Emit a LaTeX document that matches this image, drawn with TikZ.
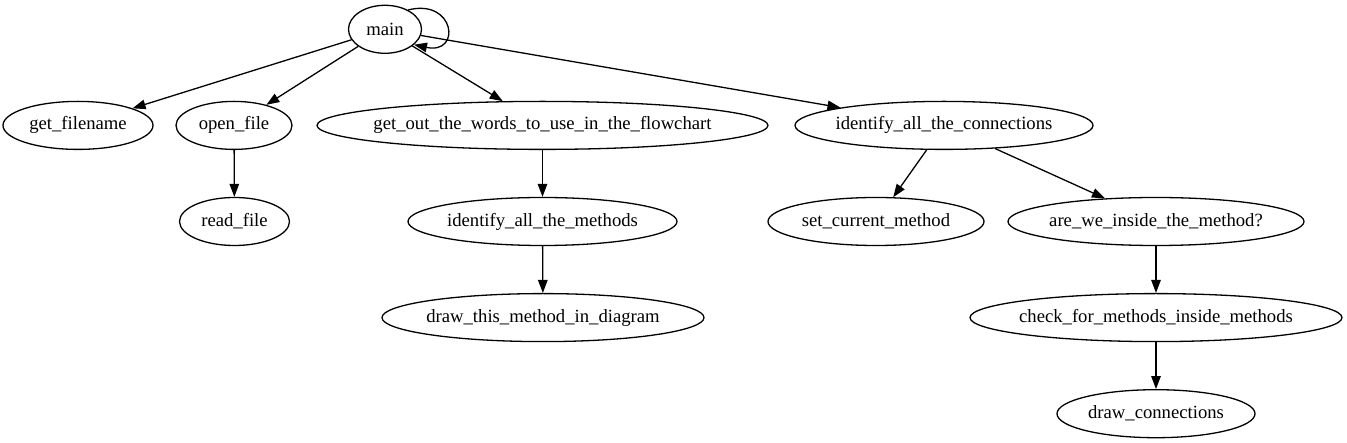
\documentclass[tikz,border=0pt]{standalone}
\usepackage{fontspec}
\setmainfont{Liberation Serif}
\usetikzlibrary{shapes.geometric,arrows.meta}
\newcommand\zlbl[1]{\makebox[0pt]{#1}}
\begin{document}
\begin{tikzpicture}[x=1pt,y=-1pt,
  nd/.style={draw,ellipse,line width=1.3pt,inner sep=0pt,minimum height=48pt,
    font=\fontsize{18.67}{22}\selectfont},
  edge/.style={-{Triangle[length=13pt,width=9.5pt]},line width=1.3pt}]
\useasboundingbox (0,0) rectangle (1347,443);
\node[nd,minimum width=73pt]  (main) at (385,29.3) {\zlbl{main}};
\node[nd,minimum width=150pt] (gf)   at (78,125.4) {\zlbl{get\_filename}};
\node[nd,minimum width=116pt] (of)   at (234,125.4) {\zlbl{open\_file}};
\node[nd,minimum width=451pt] (gw)   at (542.5,125.4) {\zlbl{get\_out\_the\_words\_to\_use\_in\_the\_flowchart}};
\node[nd,minimum width=298pt] (ic)   at (944,125.4) {\zlbl{identify\_all\_the\_connections}};
\node[nd,minimum width=110pt] (rf)   at (234.5,221.5) {\zlbl{read\_file}};
\node[nd,minimum width=269pt] (im)   at (542.5,221.5) {\zlbl{identify\_all\_the\_methods}};
\node[nd,minimum width=322pt] (dm)   at (543,317.6) {\zlbl{draw\_this\_method\_in\_diagram}};
\node[nd,minimum width=216pt] (sc)   at (876,221.5) {\zlbl{set\_current\_method}};
\node[nd,minimum width=296pt] (aw)   at (1156,221.5) {\zlbl{are\_we\_inside\_the\_method?}};
\node[nd,minimum width=372pt] (cf)   at (1156,317.6) {\zlbl{check\_for\_methods\_inside\_methods}};
\node[nd,minimum width=198pt] (dc)   at (1156,413.7) {\zlbl{draw\_connections}};

\draw[edge] (main.40) .. controls (455,-2) and (462,55) .. (main.-28);
\draw[edge] (main) -- (gf);
\draw[edge] (main) -- (of);
\draw[edge] (main) -- (gw);
\draw[edge] (main) -- (ic);
\draw[edge] (of) -- (rf);
\draw[edge] (gw) -- (im);
\draw[edge] (im) -- (dm);
\draw[edge] (ic) -- (sc);
\draw[edge] (ic) -- (aw);
\draw[edge] (aw) -- (cf);
\draw[edge] (cf) -- (dc);
\end{tikzpicture}
\end{document}
